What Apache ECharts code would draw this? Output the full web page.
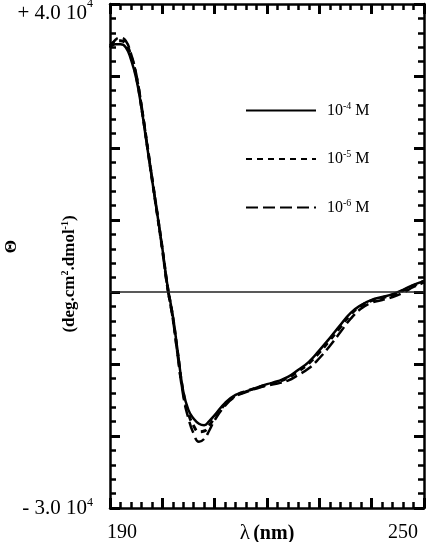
<!DOCTYPE html>
<html>
<head>
<meta charset="utf-8">
<script src="https://cdn.jsdelivr.net/npm/echarts@6/dist/echarts.min.js"></script>
<style>
  html, body { margin: 0; padding: 0; background: #fff; }
  #chart { width: 430px; height: 542px; }
</style>
</head>
<body>
<div id="chart"></div>
<script>
// wavelength (nm) and molar ellipticity for the three concentrations
var wavelength = [190, 191, 192, 193, 194, 195, 196, 197, 198, 199, 200, 201, 202, 203, 204, 205,
  206, 207, 208, 209, 210, 212, 214, 216, 218, 220, 222, 224, 226, 228, 230, 232, 234, 236, 238,
  240, 242, 244, 246, 248, 250]

var conc4 = [33900, 34400, 34400, 34000, 32300, 29700, 25600, 20700, 15800, 11000, 6100, 800,
  -3300, -8600, -13800, -16400, -17600, -18300, -18500, -17900, -17100, -15400, -14300, -13800,
  -13300, -12800, -12400, -11800, -10800, -9700, -8100, -6400, -4600, -2900, -1800, -1100, -700,
  -300, 300, 1000, 1500]

var conc5 = [34200, 34800, 34900, 34500, 32800, 30000, 25800, 20900, 15900, 11000, 6000, 700,
  -3500, -8900, -14000, -16900, -18600, -19400, -19300, -18500, -17400, -15600, -14400, -13800,
  -13300, -12900, -12500, -11900, -11000, -9900, -8400, -6700, -4900, -3100, -1900, -1200, -800,
  -400, 200, 900, 1500]

var conc6 = [34000, 35000, 35300, 34900, 33100, 30300, 26000, 21000, 16000, 11000, 5900, 500,
  -3700, -9200, -14400, -17600, -19700, -20800, -20400, -19200, -17800, -15800, -14500, -13900,
  -13400, -13000, -12700, -12300, -11500, -10600, -9200, -7500, -5600, -3700, -2300, -1500, -1100,
  -700, -100, 700, 1300]

var seriesNames = ['10⁻⁴ M', '10⁻⁵ M', '10⁻⁶ M']
var legendText = ['10{sup|-4} M', '10{sup|-5} M', '10{sup|-6} M']

// only the end values are labelled
var xLabelValues = [190, 250]
var yLabelValues = [-30000, 40000]
var xLabels = { 190: '190', 250: '250' }
var yLabels = { 40000: '+ 4.0 10', '-30000': '- 3.0 10' }

function pairs(ys) {
  return wavelength.map(function (x, i) { return [x, ys[i]] })
}

var serif = 'Liberation Serif'
var chart = echarts.init(document.getElementById('chart'))

// fresh axis object each time, ticks pointing into the frame
function frameAxis(min, max, interval, position, extra) {
  var axis = {
    type: 'value', min: min, max: max, interval: interval, position: position,
    axisLine: { show: true, onZero: false, lineStyle: { color: '#000', width: 2.5 } },
    axisTick: { show: true, inside: true, length: 10, lineStyle: { color: '#000', width: 3 } },
    minorTick: { show: true, splitNumber: 5, length: 6, lineStyle: { color: '#000', width: 2.5 } },
    splitLine: { show: false },
    axisLabel: { show: false }
  }
  return Object.assign(axis, extra || {})
}

chart.setOption({
  animation: false,
  grid: { left: 110, right: 6, top: 4, bottom: 34, outerBoundsMode: 'none' },
  legend: {
    orient: 'vertical',
    left: 240,
    top: 96,
    itemWidth: 70,
    itemHeight: 14,
    itemGap: 31,
    data: seriesNames,
    itemStyle: { opacity: 0, borderWidth: 0 },
    formatter: function (name) { return legendText[seriesNames.indexOf(name)] },
    textStyle: {
      fontFamily: serif, fontSize: 16, color: '#000', padding: [0, 0, 0, 6],
      rich: { sup: { fontFamily: serif, fontSize: 10, color: '#000', padding: [0, 0, 9, 0] } }
    }
  },
  xAxis: [
    frameAxis(190, 250, 10, 'bottom', {
      name: '{l|λ} {b|(nm)}',
      nameLocation: 'middle',
      nameGap: 15,
      nameMoveOverlap: false,
      nameTextStyle: {
        rich: {
          l: { fontFamily: serif, fontSize: 21, color: '#000' },
          b: { fontFamily: serif, fontSize: 20, fontWeight: 'bold', color: '#000' }
        }
      },
      axisLabel: {
        show: true,
        customValues: xLabelValues,
        margin: 15,
        fontFamily: serif, fontSize: 20, color: '#000',
        formatter: function (v) {
          return (v === 190 ? '{a|' : '{b|') + xLabels[v] + '}'
        },
        rich: {
          a: { fontFamily: serif, fontSize: 20, color: '#000', padding: [0, 0, 0, 24] },
          b: { fontFamily: serif, fontSize: 20, color: '#000', padding: [0, 42, 0, 0] }
        }
      }
    }),
    frameAxis(190, 250, 10, 'top')
  ],
  yAxis: [
    frameAxis(-30000, 40000, 10000, 'left', {
      name: '(deg.cm{sup|2}.dmol{sup|-1})',
      nameLocation: 'middle',
      nameRotate: 90,
      nameGap: 31,
      nameMoveOverlap: false,
      nameTextStyle: {
        fontFamily: serif, fontSize: 17, fontWeight: 'bold', color: '#000',
        padding: [0, 36, 0, 0],
        rich: { sup: { fontFamily: serif, fontSize: 10, fontWeight: 'bold', color: '#000', padding: [0, 0, 9, 0] } }
      },
      axisLabel: {
        show: true,
        customValues: yLabelValues,
        margin: 17,
        fontFamily: serif, fontSize: 21, color: '#000',
        formatter: function (v) {
          if (v === 40000) return '{t|' + yLabels[v] + '}{ts|4}'
          return yLabels['-30000'] + '{sup|4}'
        },
        rich: {
          sup: { fontFamily: serif, fontSize: 12, color: '#000', padding: [0, 0, 10, 0] },
          t: { fontFamily: serif, fontSize: 21, color: '#000', padding: [18, 0, 0, 0] },
          ts: { fontFamily: serif, fontSize: 12, color: '#000', padding: [0, 0, 1, 0] }
        }
      }
    }),
    frameAxis(-30000, 40000, 10000, 'right')
  ],
  graphic: [{
    type: 'text',
    left: 3,
    top: 240,
    rotation: Math.PI / 2,
    style: { text: 'Θ', font: 'bold 17px "Liberation Serif"', fill: '#000' }
  }],
  series: [
    {
      name: seriesNames[0],
      type: 'line',
      data: pairs(conc4),
      smooth: true,
      showSymbol: false,
      symbol: 'none',
      itemStyle: { color: '#000' },
      lineStyle: { color: '#000', width: 2.5, type: 'solid' },
      markLine: {
        silent: true,
        symbol: 'none',
        label: { show: false },
        lineStyle: { color: '#222', width: 1.5, type: 'solid' },
        data: [{ yAxis: 0 }]
      }
    },
    {
      name: seriesNames[1],
      type: 'line',
      data: pairs(conc5),
      smooth: true,
      showSymbol: false,
      symbol: 'none',
      itemStyle: { color: '#000' },
      lineStyle: { color: '#000', width: 3, type: [6, 5] }
    },
    {
      name: seriesNames[2],
      type: 'line',
      data: pairs(conc6),
      smooth: true,
      showSymbol: false,
      symbol: 'none',
      itemStyle: { color: '#000' },
      lineStyle: { color: '#000', width: 2.5, type: [12, 5] }
    }
  ]
})
</script>
</body>
</html>
